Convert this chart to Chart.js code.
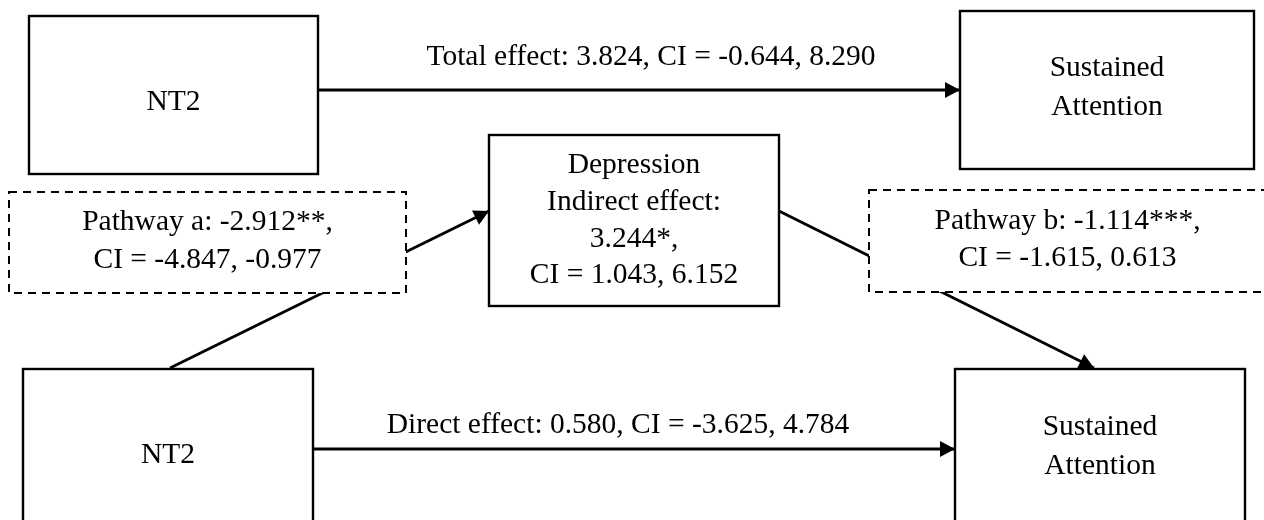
<!DOCTYPE html>
<html>
<head>
<meta charset="utf-8">
<title>Mediation model: NT2, Depression and Sustained Attention</title>
<script src="https://cdn.jsdelivr.net/npm/chart.js@4.4.1/dist/chart.umd.min.js"></script>
<style>
  html, body { margin: 0; padding: 0; background: #ffffff; }
  #wrap { width: 1264px; height: 520px; }
</style>
</head>
<body>
<div id="wrap"><canvas id="diagram" width="1264" height="520"></canvas></div>
<script>
// ---- Text shown in the diagram ----
const predictorLabel = ['NT2'];
const outcomeLabel = ['Sustained', 'Attention'];
const mediatorLabel = ['Depression', 'Indirect effect:', '3.244*,', 'CI = 1.043, 6.152'];
const totalEffectLabel = ['Total effect: 3.824, CI = -0.644, 8.290'];
const directEffectLabel = ['Direct effect: 0.580, CI = -3.625, 4.784'];
const pathwayALabel = ['Pathway a: -2.912**,', 'CI = -4.847, -0.977'];
const pathwayBLabel = ['Pathway b: -1.114***,', 'CI = -1.615, 0.613'];

// ---- Layout (scale units: x 0..1264, y 0..520 downward) ----
const boxLayout = [
  { x0: 29,  x1: 318,  y0: 16,  y1: 174, dashed: false, text: predictorLabel, cx: 173.5, base: [110] },
  { x0: 960, x1: 1254, y0: 11,  y1: 169, dashed: false, text: outcomeLabel,   cx: 1107,  base: [76, 115] },
  { x0: 489, x1: 779,  y0: 135, y1: 306, dashed: false, text: mediatorLabel,  cx: 634,   base: [173, 210, 247, 283] },
  { x0: 9,   x1: 406,  y0: 192, y1: 293, dashed: true,  text: pathwayALabel,  cx: 207.5, base: [230, 268] },
  { x0: 869, x1: 1266, y0: 190, y1: 292, dashed: true,  text: pathwayBLabel,  cx: 1067.5, base: [229, 266] },
  { x0: 23,  x1: 313,  y0: 369, y1: 540, dashed: false, text: predictorLabel, cx: 168,   base: [463] },
  { x0: 955, x1: 1245, y0: 369, y1: 540, dashed: false, text: outcomeLabel,   cx: 1100,  base: [435, 474] }
];

const edgeLabels = [
  { text: totalEffectLabel,  cx: 651, base: [65] },
  { text: directEffectLabel, cx: 618, base: [433] }
];

// Connecting paths; the last point of each is the arrow tip
const arrowPaths = [
  [{ x: 318, y: 90 },  { x: 960, y: 90 }],    // total effect
  [{ x: 313, y: 449 }, { x: 955, y: 449 }],   // direct effect
  [{ x: 170, y: 368 }, { x: 489, y: 211 }],   // pathway a
  [{ x: 779, y: 211 }, { x: 1094, y: 368 }]   // pathway b
];

const FONT = '29.5px "Liberation Serif", "Times New Roman", serif';

// Draws boxes, arrowheads and labels on top of the path lines
const diagramPlugin = {
  id: 'diagram',
  afterDatasetsDraw(chart) {
    const ctx = chart.ctx;
    const xs = chart.scales.x, ys = chart.scales.y;
    const px = v => xs.getPixelForValue(v);
    const py = v => ys.getPixelForValue(v);

    ctx.save();

    // boxes
    boxLayout.forEach(b => {
      const l = px(b.x0), r = px(b.x1), t = py(b.y0), btm = py(b.y1);
      ctx.fillStyle = '#ffffff';
      ctx.fillRect(l, t, r - l, btm - t);
      ctx.strokeStyle = '#000000';
      if (b.dashed) {
        ctx.lineWidth = 2;
        ctx.setLineDash([8, 6]);
      } else {
        ctx.lineWidth = 2.4;
        ctx.setLineDash([]);
      }
      ctx.strokeRect(l, t, r - l, btm - t);
    });
    ctx.setLineDash([]);

    // arrowheads
    chart.data.datasets.forEach((ds, i) => {
      const pts = chart.getDatasetMeta(i).data;
      const tip = pts[pts.length - 1], prev = pts[pts.length - 2];
      const ang = Math.atan2(tip.y - prev.y, tip.x - prev.x);
      const len = 15, half = 8;
      ctx.fillStyle = '#000000';
      ctx.beginPath();
      ctx.moveTo(tip.x, tip.y);
      ctx.lineTo(tip.x - len * Math.cos(ang) + half * Math.sin(ang),
                 tip.y - len * Math.sin(ang) - half * Math.cos(ang));
      ctx.lineTo(tip.x - len * Math.cos(ang) - half * Math.sin(ang),
                 tip.y - len * Math.sin(ang) + half * Math.cos(ang));
      ctx.closePath();
      ctx.fill();
    });

    // labels
    ctx.font = FONT;
    ctx.fillStyle = '#000000';
    ctx.textAlign = 'center';
    ctx.textBaseline = 'alphabetic';
    boxLayout.concat(edgeLabels).forEach(item => {
      item.text.forEach((line, k) => {
        ctx.fillText(line, px(item.cx), py(item.base[k]));
      });
    });

    ctx.restore();
  }
};

new Chart(document.getElementById('diagram'), {
  type: 'scatter',
  data: {
    datasets: arrowPaths.map(p => ({
      data: p,
      showLine: true,
      borderColor: '#000000',
      borderWidth: 2.9,
      pointRadius: 0,
      pointHoverRadius: 0,
      fill: false,
      tension: 0
    }))
  },
  options: {
    responsive: false,
    animation: false,
    events: [],
    layout: { padding: 0 },
    plugins: {
      legend: { display: false },
      tooltip: { enabled: false },
      title: { display: false }
    },
    scales: {
      x: { type: 'linear', min: 0, max: 1264, display: false },
      y: { type: 'linear', min: 0, max: 520, reverse: true, display: false }
    }
  },
  plugins: [diagramPlugin]
});
</script>
</body>
</html>
